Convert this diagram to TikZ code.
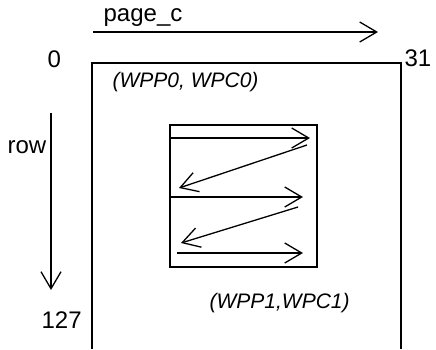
\documentclass[tikz,border=0pt]{standalone}
\usepackage{fontspec}
\setmainfont{Liberation Sans}
\usetikzlibrary{arrows.meta}

\begin{document}
\begin{tikzpicture}[x=1pt, y=-1pt, line width=1.3pt,
    lbl/.style={inner sep=0pt, anchor=base west, font=\fontsize{24}{28}\selectfont},
    tag/.style={lbl, font=\fontsize{21}{25}\selectfont\itshape},
    scan/.style={-{Straight Barb[length=17pt, width=20pt]}}]
    \useasboundingbox (0,0) rectangle (436,349);
    % axes
    \coordinate (PS) at (93,32);
    \coordinate (PE) at (378,32);
    \coordinate (RS) at (51,113);
    \coordinate (RE) at (51,290);
    \draw [scan] (PS) -- (PE);
    \draw [scan] (RS) -- (RE);
    \node at (103,21) [lbl] (pc) {page\_c};
    \node at (7,153) [lbl] (row) {row};
    \node at (47,67) [lbl] (c0) {0};
    \node at (404,66) [lbl] (c31) {31};
    \node at (41,328) [lbl] (r127) {127};
    % outer block
    \draw (92,349) -- (92,63) -- (401,63) -- (401,349);
    \node at (112,87) [tag] (wp0) {(WPP0, WPC0)};
    \node at (209,308) [tag] (wp1) {(WPP1,WPC1)};
    % inner block
    \draw (170,125) rectangle (317,267);
    \coordinate (A1) at (170,138);
    \coordinate (B1) at (310,138);
    \coordinate (A2) at (307,145);
    \coordinate (B2) at (179,188);
    \coordinate (A3) at (170,197);
    \coordinate (B3) at (303,197);
    \coordinate (A4) at (298,207);
    \coordinate (B4) at (181,243);
    \coordinate (A5) at (177,253);
    \coordinate (B5) at (303,253);
    \foreach \i in {1,...,5}
        \draw [scan] (A\i) -- (B\i);
\end{tikzpicture}
\end{document}
